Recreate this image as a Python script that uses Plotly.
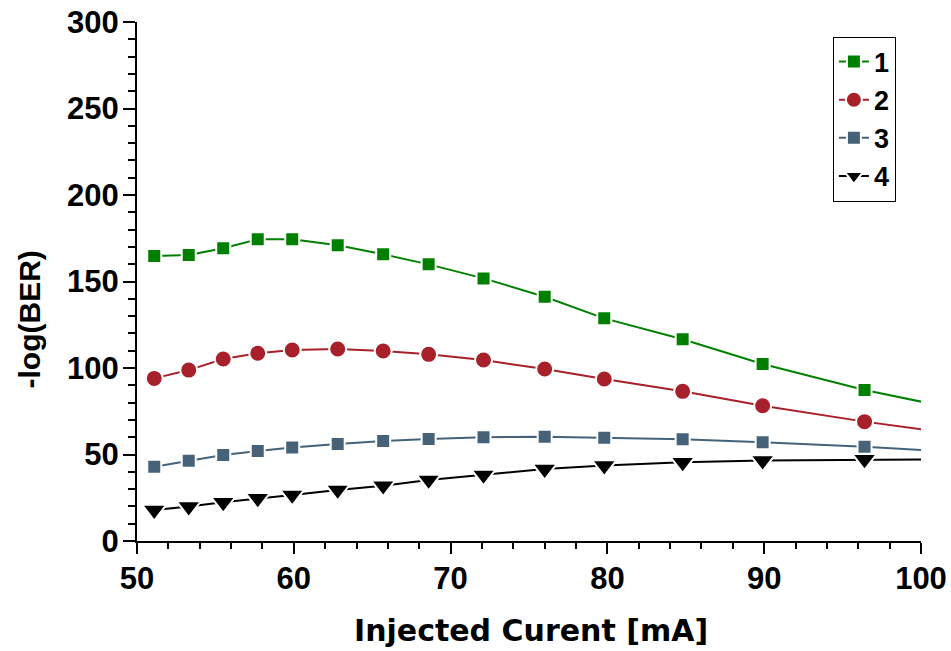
import plotly.graph_objects as go

# Data
current_mA = [51.1, 53.3, 55.5, 57.7, 59.9, 62.8, 65.7, 68.6, 72.1, 76.0, 79.8, 84.8, 89.9, 96.4, 103.5]
series_1 = [164.7, 165.3, 169.2, 174.4, 174.4, 170.9, 165.7, 159.9, 151.8, 141.2, 128.7, 116.6, 102.3, 87.3, 74.0]
series_2 = [94.0, 98.8, 105.2, 108.5, 110.4, 111.0, 109.8, 107.9, 104.6, 99.4, 93.6, 86.5, 78.2, 69.0, 60.3]
series_3 = [42.9, 46.4, 49.7, 52.0, 54.1, 56.1, 57.8, 59.0, 59.9, 60.3, 59.7, 58.8, 57.1, 54.5, 50.8]
series_4 = [17.9, 19.9, 22.4, 24.7, 26.6, 29.5, 32.0, 35.3, 38.2, 41.6, 43.6, 45.5, 46.5, 47.2, 47.3]

names = ["1", "2", "3", "4"]
colors = ["#008000", "#a8202a", "#456279", "#000000"]
symbols = ["square", "circle", "square", "triangle-down"]
sizes = [14, 17, 14, 21]

x_range = [50, 100]
y_range = [0, 300]

fig = go.Figure()
for ys, nm, c, sym, sz in zip([series_1, series_2, series_3, series_4], names, colors, symbols, sizes):
    fig.add_trace(go.Scatter(
        x=current_mA, y=ys, name=nm, mode="lines+markers",
        line=dict(color=c, width=2),
        marker=dict(symbol=sym, size=sz, color=c, line=dict(color="white", width=2)),
    ))

tickfont = dict(family="Liberation Sans", size=31, color="black", weight="bold")

fig.update_layout(
    width=951, height=651,
    margin=dict(l=137, r=30, t=22, b=110, autoexpand=False),
    paper_bgcolor="white", plot_bgcolor="white",
    showlegend=True,
    legend=dict(
        x=0.968, y=0.972, xanchor="right", yanchor="top",
        bordercolor="black", borderwidth=1, bgcolor="white",
        font=dict(family="Liberation Sans", size=27, color="black", weight="bold"),
        itemwidth=30, tracegroupgap=0,
    ),
    xaxis=dict(
        range=x_range, dtick=10, tick0=50, showgrid=False, zeroline=False,
        showline=True, linecolor="black", linewidth=2, automargin=False,
        ticks="outside", ticklen=11, tickwidth=2, tickcolor="black",
        minor=dict(dtick=2, ticks="outside", ticklen=6, tickwidth=2, tickcolor="black"),
        tickfont=tickfont, ticklabelstandoff=-2,
    ),
    yaxis=dict(
        range=y_range, dtick=50, tick0=0, showgrid=False, zeroline=False,
        showline=True, linecolor="black", linewidth=2, automargin=False,
        ticks="outside", ticklen=12, tickwidth=2, tickcolor="black",
        minor=dict(dtick=10, ticks="outside", ticklen=7, tickwidth=2, tickcolor="black"),
        tickfont=tickfont, ticklabelstandoff=-2,
    ),
    xaxis2=dict(
        range=x_range, overlaying="x", side="top", dtick=10, tick0=50,
        showgrid=False, zeroline=False, showticklabels=False, automargin=False,
        showline=True, linecolor="black", linewidth=2,
        ticks="inside", ticklen=12, tickwidth=2, tickcolor="black",
        minor=dict(dtick=2, ticks="inside", ticklen=5, tickwidth=2, tickcolor="black"),
    ),
    yaxis2=dict(
        range=y_range, overlaying="y", side="right", dtick=50, tick0=0,
        showgrid=False, zeroline=False, showticklabels=False, automargin=False,
        showline=True, linecolor="black", linewidth=2,
        ticks="inside", ticklen=12, tickwidth=2, tickcolor="black",
        minor=dict(dtick=10, ticks="inside", ticklen=6, tickwidth=2, tickcolor="black"),
    ),
    annotations=[
        dict(text="Injected Curent [mA]", xref="paper", yref="paper",
             x=0.5026, y=-0.21, xanchor="center", yanchor="bottom", showarrow=False,
             font=dict(family="DejaVu Sans", size=30, color="black", weight="bold")),
        dict(text="-log(BER)", xref="paper", yref="paper", textangle=-90,
             x=-0.137, y=0.426, xanchor="center", yanchor="middle", showarrow=False,
             font=dict(family="Liberation Sans", size=30, color="black", weight="bold")),
    ],
)

fig.write_html("out.html", config={"displayModeBar": False},
               post_script="document.body.style.margin='0';document.body.style.padding='0';")
